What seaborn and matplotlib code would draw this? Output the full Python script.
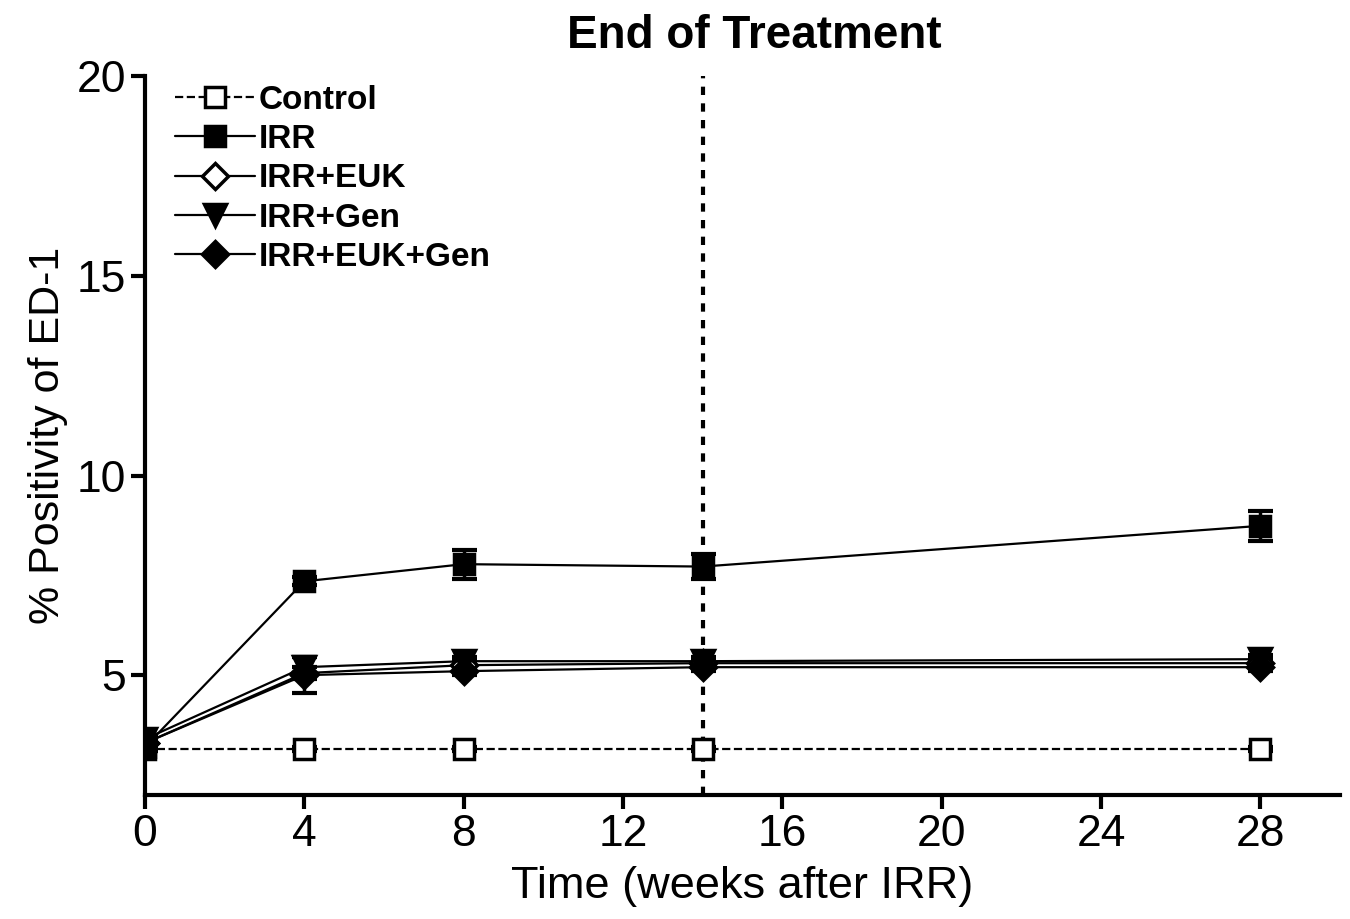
import matplotlib
matplotlib.use("Agg")
import matplotlib.pyplot as plt
import seaborn as sns
import numpy as np
import pandas as pd

weeks = [0, 4, 8, 14, 28]
groups = ["Control", "IRR", "IRR+EUK", "IRR+Gen", "IRR+EUK+Gen"]

control = [3.15, 3.15, 3.15, 3.15, 3.15]
irr = [3.2, 7.35, 7.78, 7.72, 8.74]
irr_euk = [3.3, 5.05, 5.25, 5.3, 5.3]
irr_gen = [3.4, 5.2, 5.35, 5.35, 5.4]
irr_euk_gen = [3.3, 5.0, 5.1, 5.2, 5.2]

control_err = [0.05, 0.05, 0.05, 0.05, 0.05]
irr_err = [0.1, 0.1, 0.36, 0.32, 0.38]
irr_euk_err = [0.1, 0.15, 0.1, 0.1, 0.1]
irr_gen_err = [0.1, 0.25, 0.1, 0.1, 0.1]
irr_euk_gen_err = [0.1, 0.45, 0.1, 0.1, 0.1]

values = [control, irr, irr_euk, irr_gen, irr_euk_gen]
errors = [control_err, irr_err, irr_euk_err, irr_gen_err, irr_euk_gen_err]

df = pd.DataFrame({
    "week": weeks * len(groups),
    "value": sum(values, []),
    "err": sum(errors, []),
    "group": sum([[g] * len(weeks) for g in groups], []),
})

# marker, fill, linestyle for each group
styles = {
    "Control": ("s", "white", "--"),
    "IRR": ("s", "black", "-"),
    "IRR+EUK": ("D", "white", "-"),
    "IRR+Gen": ("v", "black", "-"),
    "IRR+EUK+Gen": ("D", "black", "-"),
}
sizes = {"s": 14, "D": 13, "v": 16}

sns.set_style("ticks")
plt.rcParams['font.family'] = ['Liberation Sans', 'DejaVu Sans']
plt.rcParams['text.color'] = 'black'
plt.rcParams['axes.labelcolor'] = 'black'
plt.rcParams['xtick.color'] = 'black'
plt.rcParams['ytick.color'] = 'black'
plt.rcParams['axes.edgecolor'] = 'black'

fig = plt.figure(figsize=(13.5, 9.19), dpi=100)
ax = fig.add_axes([0.1074, 0.135, 0.8852, 0.782])

ax.axvline(14, color="black", linestyle=(0, (2, 2)), lw=3, zorder=1)

for g in groups:
    sub = df[df["group"] == g]
    m, fc, ls = styles[g]
    ax.errorbar(sub["week"], sub["value"], yerr=sub["err"], fmt="none",
                ecolor="black", elinewidth=2.5, capsize=9, capthick=3, zorder=2)
    sns.lineplot(data=sub, x="week", y="value", ax=ax, color="black",
                 linestyle=ls, lw=1.6, marker=m, markersize=sizes[m],
                 markerfacecolor=fc, markeredgecolor="black", markeredgewidth=2.5,
                 label=g, zorder=3)

ax.set_xlim(0, 30)
ax.set_ylim(2, 20)
ax.set_xticks([0, 4, 8, 12, 16, 20, 24, 28])
ax.set_yticks([5, 10, 15, 20])
ax.tick_params(axis="both", labelsize=32, width=3, length=10, direction="out")
for s in ["left", "bottom"]:
    ax.spines[s].set_linewidth(3)
sns.despine(ax=ax)

ax.set_xlabel("Time (weeks after IRR)", fontsize=32.5, labelpad=8)
ax.set_ylabel("% Positivity of ED-1", fontsize=31, labelpad=6)
ax.set_title("End of Treatment", fontsize=33, fontweight="bold", pad=20, x=0.51)

leg = ax.legend(loc="upper left", bbox_to_anchor=(0.0, 1.03), frameon=False,
                prop={"size": 24, "weight": "bold"}, handlelength=2.4,
                handletextpad=0.1, labelspacing=0.25)

fig.savefig("out.png", dpi=100)
